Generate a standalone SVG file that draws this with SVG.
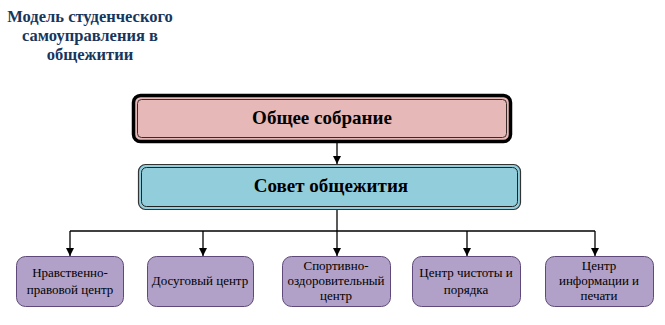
<svg xmlns="http://www.w3.org/2000/svg" width="665" height="325" viewBox="0 0 665 325">
<style>
.title{font-family:"Liberation Serif","DejaVu Serif",serif;font-weight:bold;font-size:16.5px;fill:#17365D;text-anchor:middle}
.big{font-family:"Liberation Serif","DejaVu Serif",serif;font-weight:bold;font-size:19px;fill:#000;text-anchor:middle}
.small{font-family:"Liberation Serif","DejaVu Serif",serif;font-size:13px;fill:#000;text-anchor:middle}
.leaf{fill:#B1A0C7;stroke:#5F497A;stroke-width:1}
.conn{fill:none;stroke:#000;stroke-width:1.3}
</style>
<defs>
<marker id="ah" viewBox="0 0 10 10" refX="10" refY="5" markerWidth="8" markerHeight="8" markerUnits="userSpaceOnUse" orient="auto">
<path d="M0,0 L10,5 L0,10 z" fill="#000"/>
</marker>
</defs>
<rect width="665" height="325" fill="#fff"/>
<g id="title">
<text class="title" x="90" y="22">Модель студенческого</text>
<text class="title" x="90" y="41">самоуправления в</text>
<text class="title" x="90" y="60">общежитии</text>
</g>
<g id="connectors">
<line class="conn" x1="337" y1="143" x2="337" y2="164" marker-end="url(#ah)"/>
<line class="conn" x1="337" y1="210" x2="337" y2="231"/>
<line class="conn" x1="70" y1="231" x2="595" y2="231"/>
<line class="conn" x1="70" y1="231" x2="70" y2="256" marker-end="url(#ah)"/>
<line class="conn" x1="203" y1="231" x2="203" y2="256" marker-end="url(#ah)"/>
<line class="conn" x1="337" y1="231" x2="337" y2="256" marker-end="url(#ah)"/>
<line class="conn" x1="467" y1="231" x2="467" y2="256" marker-end="url(#ah)"/>
<line class="conn" x1="595" y1="231" x2="595" y2="256" marker-end="url(#ah)"/>
</g>
<g id="node-sobranie">
<rect x="133.5" y="95.5" width="377" height="46" rx="7" fill="#E6B8B7" stroke="#000" stroke-width="3.5"/>
<rect x="137.5" y="99.5" width="369" height="38" rx="4" fill="none" stroke="#3a2a2a" stroke-width="1"/>
<text class="big" x="322" y="124">Общее собрание</text>
</g>
<g id="node-sovet">
<rect x="138.5" y="164.5" width="382" height="45" rx="7" fill="#92CDDC" stroke="#333" stroke-width="1.2"/>
<rect x="141.5" y="167.5" width="376" height="39" rx="5" fill="none" stroke="#222" stroke-width="1"/>
<text class="big" x="331" y="192">Совет общежития</text>
</g>
<g id="node-1">
<rect class="leaf" x="16.5" y="256.5" width="107" height="50" rx="9"/>
<text class="small" x="70" y="277">Нравственно-</text>
<text class="small" x="70" y="294">правовой центр</text>
</g>
<g id="node-2">
<rect class="leaf" x="147.5" y="256.5" width="106" height="50" rx="9"/>
<text class="small" x="200" y="285">Досуговый центр</text>
</g>
<g id="node-3">
<rect class="leaf" x="282.5" y="256.5" width="108" height="50" rx="9"/>
<text class="small" x="336" y="270">Спортивно-</text>
<text class="small" x="336" y="285">оздоровительный</text>
<text class="small" x="336" y="300">центр</text>
</g>
<g id="node-4">
<rect class="leaf" x="412.5" y="256.5" width="108" height="50" rx="9"/>
<text class="small" x="466" y="277">Центр чистоты и</text>
<text class="small" x="466" y="294">порядка</text>
</g>
<g id="node-5">
<rect class="leaf" x="545.5" y="256.5" width="108" height="50" rx="9"/>
<text class="small" x="599" y="270">Центр</text>
<text class="small" x="599" y="285">информации и</text>
<text class="small" x="599" y="300">печати</text>
</g>
</svg>
